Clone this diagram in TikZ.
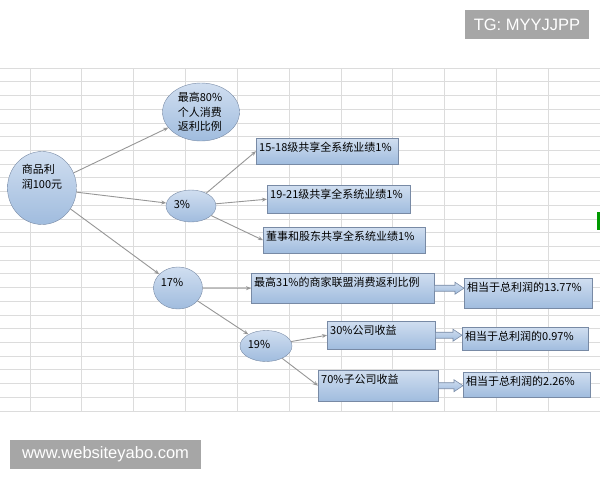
\documentclass[tikz,border=0pt]{standalone}
\usepackage{fontspec}
\newfontfamily\cjk{Noto Sans CJK SC}
\newfontfamily\wmfont{Liberation Sans}
\usetikzlibrary{shapes.geometric,arrows.meta,calc}

\definecolor{gridgray}{RGB}{220,220,220}
\definecolor{edge}{RGB}{120,138,165}
\definecolor{toplight}{RGB}{208,222,240}
\definecolor{botblue}{RGB}{160,188,222}
\definecolor{wire}{RGB}{150,150,150}
\definecolor{wmgray}{RGB}{166,166,166}

\tikzset{
  oval/.style={ellipse, draw=edge, top color=toplight, bottom color=botblue,
    inner sep=0pt},
  ovaltxt/.style={font=\cjk\fontsize{11}{14.5}\selectfont, align=left},
  cell/.style={rectangle, draw=edge, top color=toplight, bottom color=botblue,
    anchor=north west, inner sep=3pt, text height=10pt, align=left,
    font=\cjk\fontsize{11}{14}\selectfont},
  link/.style={draw=wire, line width=0.9pt, -{Stealth[length=5pt,width=4pt]}},
  fat/.style={draw=edge, line width=0.6pt, top color=toplight, bottom color=botblue},
  wmbox/.style={fill=wmgray, text=white, inner sep=0pt,
    font=\wmfont\fontsize{16.5}{18}\selectfont}
}

\newcommand{\fatarrow}[2]{%
  \path let \p1=(#1.east), \p2=(#2.west) in [fat]
    (\x1,\y1+3) -- (\x2-9,\y1+3) -- (\x2-9,\y1+6) -- (\x2,\y1)
    -- (\x2-9,\y1-6) -- (\x2-9,\y1-3) -- (\x1,\y1-3) -- cycle;}

\begin{document}
\begin{tikzpicture}[x=1pt, y=-1pt]
\useasboundingbox (0,0) rectangle (600,480);

%% sheet grid
\foreach \k in {0,...,25}
  \draw[gridgray, line width=0.7pt] (0,68+13.72*\k) -- (600,68+13.72*\k);
\foreach \k in {0,...,10}
  \draw[gridgray, line width=0.7pt] (30+51.82*\k,68) -- (30+51.82*\k,411);
\fill[green!60!black] (597,212) rectangle (600,230);

%% ovals
\node[oval, minimum width=69pt, minimum height=73pt,
  label={[ovaltxt, yshift=11pt]center:商品利\\润100元}] (root) at (42,188) {};
\node[oval, minimum width=77pt, minimum height=58pt,
  label={[ovaltxt, xshift=-1pt]center:最高80\%\\个人消费\\返利比例}] (p80) at (201,112) {};
\node[oval, minimum width=50pt, minimum height=32pt,
  label={[ovaltxt, xshift=-9pt, yshift=2pt]center:3\%}] (p3) at (191,206) {};
\node[oval, minimum width=49pt, minimum height=42pt,
  label={[ovaltxt, xshift=-6pt, yshift=6pt]center:17\%}] (p17) at (178,288) {};
\node[oval, minimum width=52pt, minimum height=31pt,
  label={[ovaltxt, xshift=-7pt, yshift=2pt]center:19\%}] (p19) at (266,346) {};

%% boxes
\node[cell, text width=136pt, text depth=10pt] (lvA) at (256,138) {15-18级共享全系统业绩1\%};
\node[cell, text width=137pt, text depth=12pt] (lvB) at (267,185) {19-21级共享全系统业绩1\%};
\node[cell, text width=156pt, text depth=10pt] (lvC) at (263,227) {董事和股东共享全系统业绩1\%};
\node[cell, text width=177pt, text depth=14pt] (m31) at (251,273) {最高31\%的商家联盟消费返利比例};
\node[cell, text width=102pt, text depth=12pt] (c30) at (327,321) {30\%公司收益};
\node[cell, text width=114pt, text depth=15pt] (c70) at (318,370) {70\%子公司收益};
\node[cell, text width=122pt, text depth=14pt] (r1) at (464,278) {相当于总利润的13.77\%};
\node[cell, text width=120pt, text depth=7pt] (r2) at (462,327) {相当于总利润的0.97\%};
\node[cell, text width=121pt, text depth=9pt] (r3) at (463,372) {相当于总利润的2.26\%};

%% links
\draw[link] (root) -- (p80);
\draw[link] (root) -- (p3);
\draw[link] (root) -- (p17);
\draw[link] (p3) -- (lvA.west);
\draw[link] (p3) -- (lvB.west);
\draw[link] (p3) -- (lvC.west);
\draw[link] (p17) -- (m31.west);
\draw[link] (p17) -- (p19);
\draw[link] (p19) -- (c30.west);
\draw[link] (p19) -- (c70.west);

\fatarrow{m31}{r1}
\fatarrow{c30}{r2}
\fatarrow{c70}{r3}

%% watermarks
\node[wmbox, minimum width=124pt, minimum height=29pt] (tg) at (527,24.5) {TG: MYYJJPP};
\node[wmbox, minimum width=191pt, minimum height=29pt] (web) at (105.5,454.5) {www.websiteyabo.com};

\end{tikzpicture}
\end{document}
